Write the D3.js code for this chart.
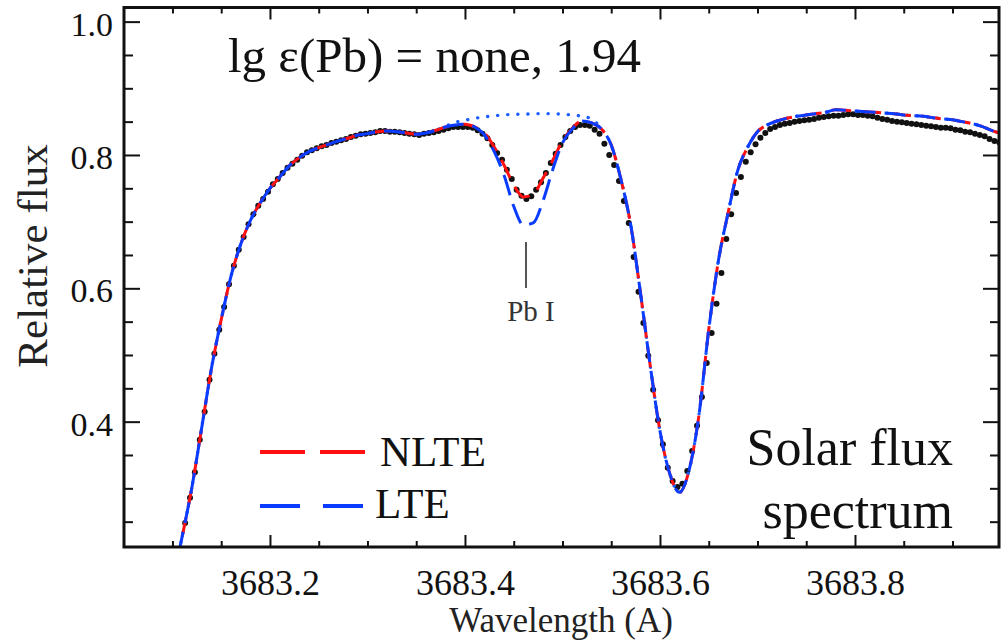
<!DOCTYPE html>
<html>
<head>
<meta charset="utf-8">
<script src="https://cdn.jsdelivr.net/npm/d3@7"></script>
<style>
  html, body { margin: 0; padding: 0; background: #fff; }
  svg { display: block; font-family: "Liberation Serif", "Times New Roman", serif; }
</style>
</head>
<body>
<svg id="chart" width="1002" height="641"></svg>
<script>
// ---- Observed solar flux spectrum (black dots) ----
const obsWave = [
  3683.113, 3683.118, 3683.123, 3683.128, 3683.133, 3683.138, 3683.143, 3683.148, 3683.153, 3683.158,
  3683.163, 3683.168, 3683.173, 3683.178, 3683.183, 3683.188, 3683.193, 3683.198, 3683.203, 3683.208,
  3683.213, 3683.218, 3683.223, 3683.228, 3683.233, 3683.238, 3683.243, 3683.248, 3683.253, 3683.258,
  3683.263, 3683.268, 3683.273, 3683.278, 3683.283, 3683.288, 3683.293, 3683.298, 3683.303, 3683.308,
  3683.313, 3683.318, 3683.323, 3683.328, 3683.333, 3683.338, 3683.343, 3683.348, 3683.353, 3683.358,
  3683.363, 3683.368, 3683.373, 3683.378, 3683.383, 3683.388, 3683.393, 3683.398, 3683.403, 3683.408,
  3683.413, 3683.418, 3683.423, 3683.428, 3683.433, 3683.438, 3683.443, 3683.448, 3683.453, 3683.458,
  3683.463, 3683.468, 3683.473, 3683.478, 3683.483, 3683.488, 3683.493, 3683.498, 3683.503, 3683.508,
  3683.513, 3683.518, 3683.523, 3683.528, 3683.533, 3683.538, 3683.543, 3683.548, 3683.553, 3683.558,
  3683.563, 3683.568, 3683.573, 3683.578, 3683.583, 3683.588, 3683.593, 3683.598, 3683.603, 3683.608,
  3683.613, 3683.618, 3683.623, 3683.628, 3683.633, 3683.638, 3683.643, 3683.648, 3683.653, 3683.658,
  3683.663, 3683.668, 3683.673, 3683.678, 3683.683, 3683.688, 3683.693, 3683.698, 3683.703, 3683.708,
  3683.713, 3683.718, 3683.723, 3683.728, 3683.733, 3683.738, 3683.743, 3683.748, 3683.753, 3683.758,
  3683.763, 3683.768, 3683.773, 3683.778, 3683.783, 3683.788, 3683.793, 3683.798, 3683.803, 3683.808,
  3683.813, 3683.818, 3683.823, 3683.828, 3683.833, 3683.838, 3683.843, 3683.848, 3683.853, 3683.858,
  3683.863, 3683.868, 3683.873, 3683.878, 3683.883, 3683.888, 3683.893, 3683.898, 3683.903, 3683.908,
  3683.913, 3683.918, 3683.923, 3683.928, 3683.933, 3683.938, 3683.943, 3683.948
];
const obsFlux = [
  0.248, 0.286, 0.324, 0.373, 0.415, 0.463, 0.502, 0.538, 0.572, 0.606,
  0.634, 0.658, 0.677, 0.696, 0.711, 0.724, 0.734, 0.745, 0.756, 0.764,
  0.773, 0.781, 0.787, 0.793, 0.799, 0.804, 0.807, 0.810, 0.813, 0.815,
  0.818, 0.820, 0.822, 0.824, 0.827, 0.829, 0.831, 0.832, 0.833, 0.834,
  0.836, 0.836, 0.835, 0.835, 0.834, 0.833, 0.832, 0.831, 0.830, 0.832,
  0.833, 0.834, 0.836, 0.838, 0.840, 0.842, 0.842, 0.842, 0.842, 0.841,
  0.837, 0.832, 0.825, 0.815, 0.803, 0.793, 0.778, 0.764, 0.748, 0.739,
  0.734, 0.738, 0.748, 0.759, 0.773, 0.788, 0.802, 0.815, 0.827, 0.836,
  0.842, 0.845, 0.845, 0.844, 0.838, 0.832, 0.817, 0.800, 0.785, 0.761,
  0.731, 0.698, 0.647, 0.595, 0.548, 0.499, 0.448, 0.402, 0.366, 0.331,
  0.311, 0.302, 0.307, 0.326, 0.356, 0.394, 0.437, 0.488, 0.533, 0.577,
  0.623, 0.674, 0.711, 0.743, 0.767, 0.790, 0.804, 0.816, 0.826, 0.833,
  0.839, 0.842, 0.845, 0.847, 0.848, 0.850, 0.851, 0.852, 0.853, 0.854,
  0.856, 0.857, 0.858, 0.859, 0.859, 0.860, 0.861, 0.861, 0.860, 0.860,
  0.859, 0.858, 0.856, 0.854, 0.853, 0.851, 0.850, 0.849, 0.848, 0.847,
  0.846, 0.845, 0.844, 0.843, 0.842, 0.841, 0.841, 0.840, 0.838, 0.837,
  0.835, 0.834, 0.832, 0.830, 0.828, 0.824, 0.821, 0.819
];

// ---- Synthetic spectra ----
const synthWave = [
  3683.10, 3683.11, 3683.12, 3683.13, 3683.14, 3683.15, 3683.16, 3683.17, 3683.18, 3683.19,
  3683.20, 3683.21, 3683.22, 3683.23, 3683.24, 3683.25, 3683.26, 3683.27, 3683.28, 3683.29,
  3683.30, 3683.31, 3683.32, 3683.33, 3683.34, 3683.35, 3683.36, 3683.37, 3683.38, 3683.39,
  3683.40, 3683.41, 3683.42, 3683.43, 3683.44, 3683.45, 3683.46, 3683.47, 3683.48, 3683.49,
  3683.50, 3683.51, 3683.52, 3683.53, 3683.54, 3683.55, 3683.56, 3683.57, 3683.58, 3683.59,
  3683.60, 3683.61, 3683.62, 3683.63, 3683.64, 3683.65, 3683.66, 3683.67, 3683.68, 3683.69,
  3683.70, 3683.71, 3683.72, 3683.73, 3683.74, 3683.75, 3683.76, 3683.77, 3683.78, 3683.79,
  3683.80, 3683.81, 3683.82, 3683.83, 3683.84, 3683.85, 3683.86, 3683.87, 3683.88, 3683.89,
  3683.90, 3683.91, 3683.92, 3683.93, 3683.94, 3683.95
];
// NLTE, lg eps(Pb) = 1.94
const synthNLTE = [
  0.160, 0.228, 0.302, 0.391, 0.480, 0.553, 0.618, 0.666, 0.702, 0.728,
  0.750, 0.767, 0.784, 0.796, 0.805, 0.811, 0.816, 0.821, 0.825, 0.830,
  0.832, 0.835, 0.836, 0.835, 0.833, 0.831, 0.833, 0.837, 0.842, 0.845,
  0.846, 0.842, 0.833, 0.812, 0.785, 0.755, 0.737, 0.741, 0.765, 0.792,
  0.821, 0.840, 0.851, 0.848, 0.839, 0.815, 0.763, 0.695, 0.593, 0.484,
  0.386, 0.322, 0.294, 0.328, 0.410, 0.538, 0.642, 0.714, 0.778, 0.812,
  0.835, 0.845, 0.851, 0.855, 0.858, 0.860, 0.862, 0.864, 0.868, 0.867,
  0.866, 0.865, 0.864, 0.863, 0.862, 0.860, 0.859, 0.858, 0.856, 0.854,
  0.853, 0.850, 0.847, 0.843, 0.837, 0.832
];
// LTE, lg eps(Pb) = 1.94
const synthLTE = [
  0.160, 0.228, 0.302, 0.391, 0.480, 0.553, 0.618, 0.666, 0.702, 0.728,
  0.750, 0.767, 0.784, 0.796, 0.805, 0.811, 0.816, 0.821, 0.825, 0.830,
  0.832, 0.835, 0.836, 0.835, 0.833, 0.831, 0.833, 0.837, 0.842, 0.845,
  0.846, 0.842, 0.830, 0.805, 0.770, 0.723, 0.695, 0.698, 0.731, 0.778,
  0.818, 0.839, 0.851, 0.848, 0.839, 0.815, 0.763, 0.695, 0.593, 0.484,
  0.386, 0.322, 0.294, 0.328, 0.410, 0.538, 0.642, 0.714, 0.778, 0.812,
  0.835, 0.845, 0.851, 0.855, 0.858, 0.860, 0.862, 0.864, 0.868, 0.867,
  0.866, 0.865, 0.864, 0.863, 0.862, 0.860, 0.859, 0.858, 0.856, 0.854,
  0.853, 0.850, 0.847, 0.843, 0.837, 0.832
];
// no Pb
const synthNone = [
  0.160, 0.228, 0.302, 0.391, 0.480, 0.553, 0.618, 0.666, 0.702, 0.728,
  0.750, 0.767, 0.784, 0.796, 0.805, 0.811, 0.816, 0.821, 0.825, 0.830,
  0.832, 0.835, 0.836, 0.835, 0.833, 0.831, 0.833, 0.837, 0.843, 0.849,
  0.852, 0.855, 0.857, 0.859, 0.860, 0.861, 0.861, 0.862, 0.862, 0.862,
  0.861, 0.860, 0.858, 0.854, 0.839, 0.815, 0.763, 0.695, 0.593, 0.484,
  0.386, 0.322, 0.294, 0.328, 0.410, 0.538, 0.642, 0.714, 0.778, 0.812,
  0.835, 0.845, 0.851, 0.855, 0.858, 0.860, 0.862, 0.864, 0.868, 0.867,
  0.866, 0.865, 0.864, 0.863, 0.862, 0.860, 0.859, 0.858, 0.856, 0.854,
  0.853, 0.850, 0.847, 0.843, 0.837, 0.832
];

// ---- Axis ticks ----
const xMajor = [3683.2, 3683.4, 3683.6, 3683.8];
const xMinor = [3683.10, 3683.15, 3683.25, 3683.30, 3683.35, 3683.45, 3683.50,
                3683.55, 3683.65, 3683.70, 3683.75, 3683.85, 3683.90];
const yMajor = [0.4, 0.6, 0.8, 1.0];
const yMinor = [0.25, 0.30, 0.35, 0.45, 0.50, 0.55, 0.65, 0.70, 0.75, 0.85, 0.90, 0.95];

// ---- Labels ----
const titleText = "lg \u03b5(Pb) = none, 1.94";
const xLabel = "Wavelength (A)";
const yLabel = "Relative flux";
const lineLabel = "Pb I";
const lineWave = 3683.4626;
const legendItems = [
  { name: "NLTE", color: "#ff1010" },
  { name: "LTE",  color: "#0a3cff" }
];
const noteLines = ["Solar flux", "spectrum"];

// ---- Layout ----
const plotL = 124, plotR = 999, plotT = 7.5, plotB = 547;
const svg = d3.select("#chart");

const x = d3.scaleLinear().domain([3683.0503, 3683.9477]).range([plotL, plotR]);
const y = d3.scaleLinear().domain([0.2120, 1.0212]).range([plotB, plotT]);

svg.append("defs").append("clipPath").attr("id", "plotClip")
  .append("rect")
  .attr("x", plotL).attr("y", plotT)
  .attr("width", plotR - plotL).attr("height", plotB - plotT);

const plot = svg.append("g").attr("clip-path", "url(#plotClip)");

// observed dots
const obs = obsWave.map((w, i) => ({ w, f: obsFlux[i] }));
plot.append("g").selectAll("circle")
  .data(obs).join("circle")
  .attr("cx", d => x(d.w))
  .attr("cy", d => y(d.f))
  .attr("r", 3)
  .attr("fill", "#111");

const line = d3.line()
  .x(d => x(d.w))
  .y(d => y(d.f))
  .curve(d3.curveMonotoneX);

const toPts = arr => synthWave.map((w, i) => ({ w, f: arr[i] }));

// synthetic spectrum without Pb: dotted blue
plot.append("path")
  .attr("d", line(toPts(synthNone)))
  .attr("fill", "none")
  .attr("stroke", "#1a5cff")
  .attr("stroke-width", 3.4)
  .attr("stroke-linecap", "round")
  .attr("stroke-dasharray", "0.1,10");

// NLTE: red dashed
plot.append("path")
  .attr("d", line(toPts(synthNLTE)))
  .attr("fill", "none")
  .attr("stroke", legendItems[0].color)
  .attr("stroke-width", 3)
  .attr("stroke-dasharray", "20,10")
  .attr("stroke-dashoffset", 14);

// LTE: blue dashed
plot.append("path")
  .attr("d", line(toPts(synthLTE)))
  .attr("fill", "none")
  .attr("stroke", legendItems[1].color)
  .attr("stroke-width", 3)
  .attr("stroke-dasharray", "21,9");

// ---- Axes (ticks pointing inward) ----
const styleAxis = g => {
  g.select(".domain").remove();
  g.selectAll(".tick line").attr("stroke", "#111").attr("stroke-width", 2);
};

// bottom
svg.append("g").attr("transform", `translate(0,${plotB})`)
  .call(d3.axisBottom(x).tickValues(xMinor).tickSize(-6).tickFormat(""))
  .call(styleAxis);
const gxB = svg.append("g").attr("transform", `translate(0,${plotB})`)
  .call(d3.axisBottom(x).tickValues(xMajor).tickSize(-12).tickFormat(d3.format(".1f")))
  .call(styleAxis);
gxB.selectAll("text")
  .attr("y", 48).attr("dy", 0)
  .attr("fill", "#111")
  .style("font-size", "36px")
  .style("font-family", "Liberation Serif, serif");

// top
svg.append("g").attr("transform", `translate(0,${plotT})`)
  .call(d3.axisTop(x).tickValues(xMinor).tickSize(-6).tickFormat(""))
  .call(styleAxis);
svg.append("g").attr("transform", `translate(0,${plotT})`)
  .call(d3.axisTop(x).tickValues(xMajor).tickSize(-12).tickFormat(""))
  .call(styleAxis);

// left
svg.append("g").attr("transform", `translate(${plotL},0)`)
  .call(d3.axisLeft(y).tickValues(yMinor).tickSize(-9).tickFormat(""))
  .call(styleAxis);
const gyL = svg.append("g").attr("transform", `translate(${plotL},0)`)
  .call(d3.axisLeft(y).tickValues(yMajor).tickSize(-16).tickFormat(d3.format(".1f")))
  .call(styleAxis);
gyL.selectAll("text")
  .attr("x", -11).attr("dy", "0.40em")
  .attr("fill", "#111")
  .style("font-size", "34px")
  .style("font-family", "Liberation Serif, serif");

// right
svg.append("g").attr("transform", `translate(${plotR},0)`)
  .call(d3.axisRight(y).tickValues(yMinor).tickSize(-9).tickFormat(""))
  .call(styleAxis);
svg.append("g").attr("transform", `translate(${plotR},0)`)
  .call(d3.axisRight(y).tickValues(yMajor).tickSize(-16).tickFormat(""))
  .call(styleAxis);

// frame
svg.append("rect")
  .attr("x", plotL).attr("y", plotT)
  .attr("width", plotR - plotL).attr("height", plotB - plotT)
  .attr("fill", "none").attr("stroke", "#111").attr("stroke-width", 3);

// axis titles
svg.append("text")
  .attr("x", 561).attr("y", 632)
  .attr("text-anchor", "middle")
  .attr("fill", "#222")
  .style("font-size", "35px")
  .text(xLabel);

svg.append("text")
  .attr("transform", "translate(47,256) rotate(-90)")
  .attr("text-anchor", "middle")
  .attr("fill", "#222")
  .style("font-size", "43px")
  .text(yLabel);

// title
svg.append("text")
  .attr("x", 228).attr("y", 72)
  .attr("fill", "#111")
  .style("font-size", "49px")
  .text(titleText);

// Pb I marker
svg.append("line")
  .attr("x1", x(lineWave)).attr("x2", x(lineWave))
  .attr("y1", 242).attr("y2", 288)
  .attr("stroke", "#555").attr("stroke-width", 2);
svg.append("text")
  .attr("x", x(lineWave) + 5).attr("y", 321)
  .attr("text-anchor", "middle")
  .attr("fill", "#333")
  .style("font-size", "29px")
  .text(lineLabel);

// legend
const legendRows = [
  { y: 452, dash: "45,15", textX: 380, textY: 466 },
  { y: 506, dash: "40,23", textX: 375, textY: 518 }
];
legendItems.forEach((item, i) => {
  const r = legendRows[i];
  svg.append("line")
    .attr("x1", 260).attr("x2", 365)
    .attr("y1", r.y).attr("y2", r.y)
    .attr("stroke", item.color)
    .attr("stroke-width", 4)
    .attr("stroke-dasharray", r.dash);
  svg.append("text")
    .attr("x", r.textX).attr("y", r.textY)
    .attr("fill", "#111")
    .style("font-size", "43px")
    .text(item.name);
});

// annotation
noteLines.forEach((t, i) => {
  svg.append("text")
    .attr("x", 953).attr("y", 465 + i * 63)
    .attr("text-anchor", "end")
    .attr("fill", "#111")
    .style("font-size", "52px")
    .text(t);
});
</script>
</body>
</html>
